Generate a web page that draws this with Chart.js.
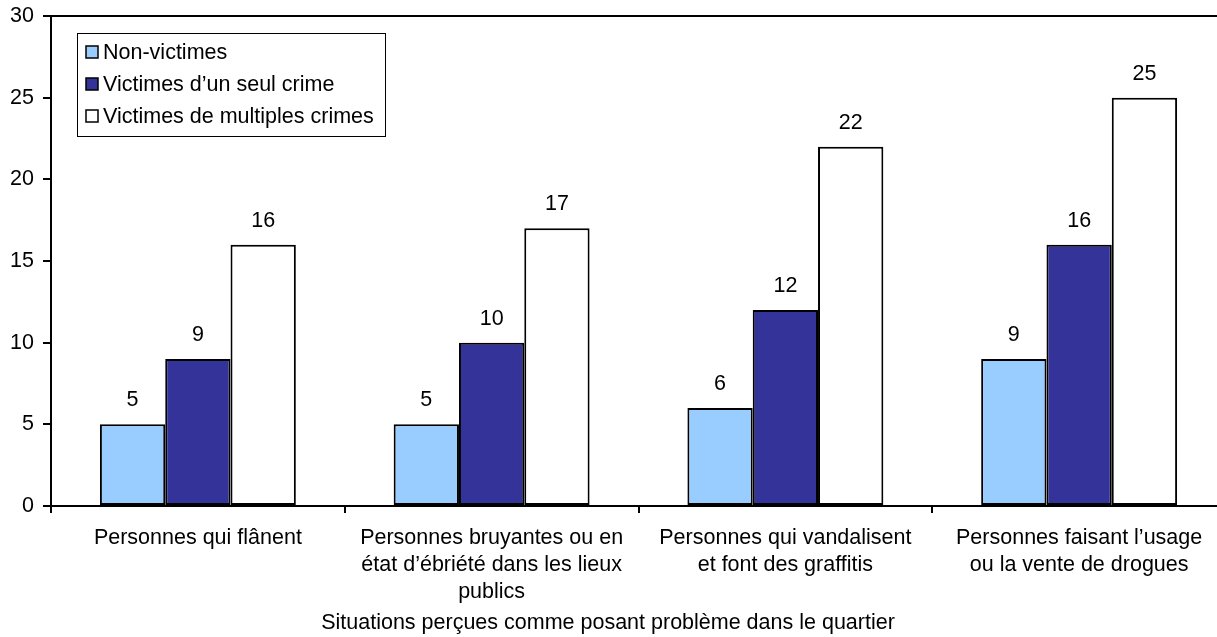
<!DOCTYPE html>
<html>
<head>
<meta charset="utf-8">
<script src="https://cdn.jsdelivr.net/npm/chart.js@4"></script>
<style>
html,body{margin:0;padding:0;background:#fff;overflow:hidden;width:1217px;height:637px;}
canvas{display:block;}
</style>
</head>
<body>
<canvas id="c" width="1240" height="637"></canvas>
<script>
const categories = [
  "Personnes qui flânent",
  ["Personnes bruyantes ou en", "état d’ébriété dans les lieux", "publics"],
  ["Personnes qui vandalisent", "et font des graffitis"],
  ["Personnes faisant l’usage", "ou la vente de drogues"]
];
const seriesNames = ["Non-victimes", "Victimes d’un seul crime", "Victimes de multiples crimes"];
const nonVictimes = [5, 5, 6, 9];
const victimesSeul = [9, 10, 12, 16];
const victimesMultiples = [16, 17, 22, 25];
const seriesColors = ["#99CCFF", "#333399", "#FFFFFF"];
const yTicks = [0, 5, 10, 15, 20, 25, 30];
const axisTitle = "Situations perçues comme posant problème dans le quartier";

const FONT = "'Liberation Sans', Arial, sans-serif";
const FS = 21.5;

const extras = {
  id: 'extras',
  afterDatasetsDraw(chart) {
    const ctx = chart.ctx;
    const a = chart.chartArea;
    ctx.save();
    // top border
    ctx.strokeStyle = '#000';
    ctx.lineWidth = 2;
    ctx.beginPath();
    ctx.moveTo(a.left, a.top);
    ctx.lineTo(a.right, a.top);
    ctx.stroke();
    // value labels
    ctx.fillStyle = '#000';
    ctx.font = FS + 'px ' + FONT;
    ctx.textAlign = 'center';
    ctx.textBaseline = 'middle';
    chart.data.datasets.forEach((ds, i) => {
      const meta = chart.getDatasetMeta(i);
      meta.data.forEach((bar, j) => {
        ctx.fillText(String(ds.data[j]), bar.x, bar.y - 24);
      });
    });
    // legend box
    const lx = 77, ly = 33, lw = 308, lh = 103;
    ctx.fillStyle = '#fff';
    ctx.fillRect(lx, ly, lw, lh);
    ctx.strokeStyle = '#000';
    ctx.lineWidth = 1;
    ctx.strokeRect(lx + 0.5, ly + 0.5, lw, lh);
    const rows = [52, 84, 116];
    chart.data.datasets.forEach((ds, i) => {
      ctx.fillStyle = ds.backgroundColor;
      ctx.fillRect(86, rows[i] - 6, 12, 12);
      ctx.lineWidth = 1.5;
      ctx.strokeStyle = '#000';
      ctx.strokeRect(86, rows[i] - 6, 12, 12);
      ctx.fillStyle = '#000';
      ctx.textAlign = 'left';
      ctx.fillText(ds.label, 103, rows[i] + 1);
    });
    // axis title
    ctx.textAlign = 'center';
    ctx.fillText(axisTitle, 608, 623);
    ctx.restore();
  }
};

new Chart(document.getElementById('c'), {
  type: 'bar',
  data: {
    labels: categories,
    datasets: [
      { label: seriesNames[0], data: nonVictimes, backgroundColor: seriesColors[0] },
      { label: seriesNames[1], data: victimesSeul, backgroundColor: seriesColors[1] },
      { label: seriesNames[2], data: victimesMultiples, backgroundColor: seriesColors[2] }
    ]
  },
  options: {
    responsive: false,
    animation: false,
    events: [],
    layout: { padding: { top: 16, right: 14, left: 0, bottom: 0 } },
    datasets: {
      bar: {
        borderColor: '#000',
        borderWidth: 2,
        borderSkipped: false,
        categoryPercentage: 0.667,
        barPercentage: 1.0
      }
    },
    plugins: { legend: { display: false }, tooltip: { enabled: false } },
    scales: {
      x: {
        afterFit(s) { s.height = 131; s.paddingLeft = 0; s.paddingRight = 0; },
        grid: { display: true, drawOnChartArea: false, offset: true, color: '#000', lineWidth: 2, tickLength: 7 },
        border: { display: true, color: '#000', width: 2 },
        ticks: {
          color: '#000',
          font: { family: FONT, size: FS, lineHeight: 1.256 },
          maxRotation: 0, minRotation: 0, autoSkip: false, padding: 12
        }
      },
      y: {
        min: 0, max: 30,
        afterFit(s) { s.width = 51; s.paddingTop = 0; s.paddingBottom = 0; },
        afterBuildTicks(s) { s.ticks = yTicks.map(v => ({ value: v })); },
        grid: { display: true, drawOnChartArea: false, color: '#000', lineWidth: 2, tickLength: 8 },
        border: { display: true, color: '#000', width: 2 },
        ticks: {
          color: '#000',
          font: { family: FONT, size: FS },
          padding: 9
        }
      }
    }
  },
  plugins: [extras]
});
</script>
</body>
</html>
